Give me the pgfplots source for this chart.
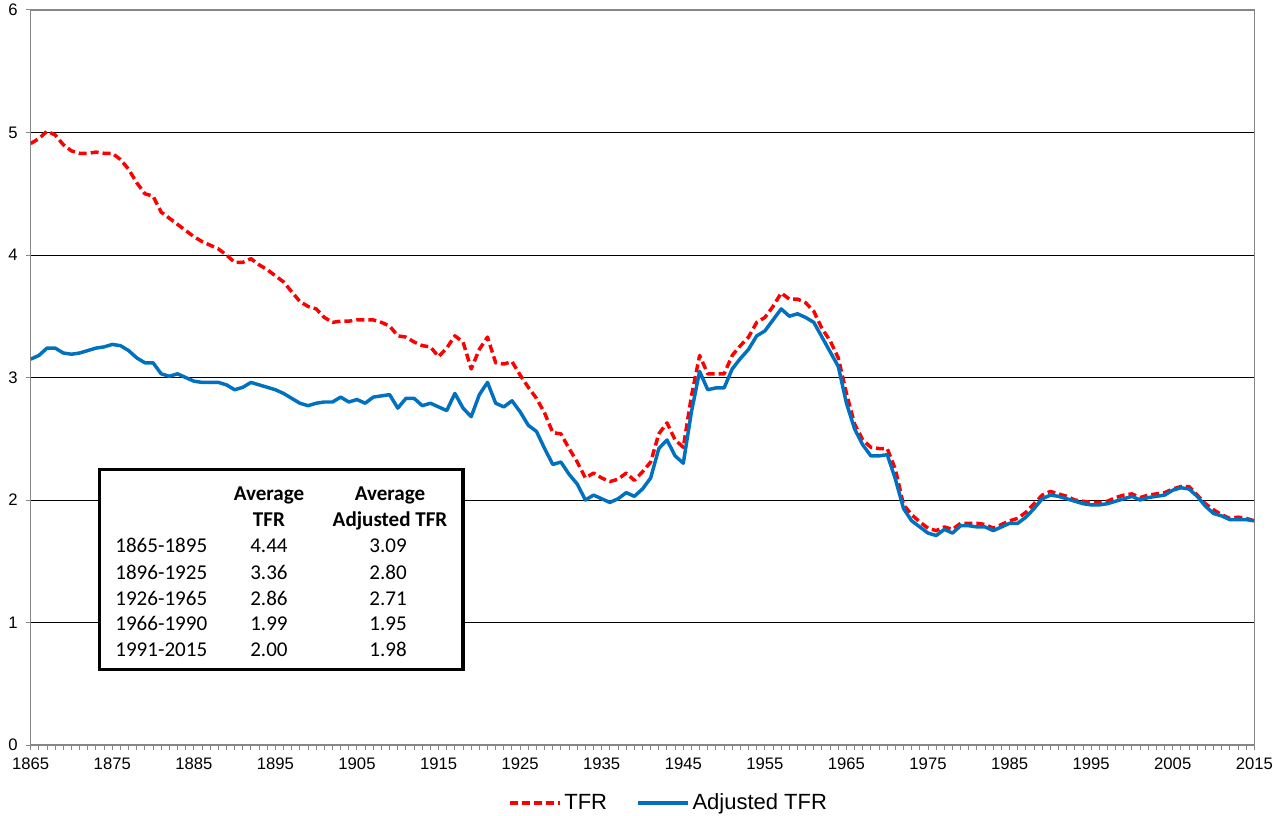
\documentclass[border=0pt]{standalone}
\usepackage{pgfplots}
\usepackage{pgfplotstable}
\pgfplotsset{compat=1.18}
\usepackage{fontspec}
\setmainfont{Liberation Sans}
\newfontfamily\calibri{Carlito}
\definecolor{tfrred}{RGB}{255,0,0}
\definecolor{adjblue}{RGB}{0,112,192}
\definecolor{axgray}{RGB}{134,134,134}

\pgfplotstableread{
year tfr adj
1865 4.91 3.15
1866 4.95 3.18
1867 5.01 3.24
1868 4.98 3.24
1869 4.90 3.20
1870 4.85 3.19
1871 4.83 3.20
1872 4.83 3.22
1873 4.84 3.24
1874 4.83 3.25
1875 4.83 3.27
1876 4.78 3.26
1877 4.70 3.22
1878 4.59 3.16
1879 4.50 3.12
1880 4.48 3.12
1881 4.35 3.03
1882 4.30 3.01
1883 4.25 3.03
1884 4.20 3.00
1885 4.15 2.97
1886 4.11 2.96
1887 4.08 2.96
1888 4.05 2.96
1889 4.00 2.94
1890 3.94 2.90
1891 3.94 2.92
1892 3.97 2.96
1893 3.92 2.94
1894 3.88 2.92
1895 3.83 2.90
1896 3.78 2.87
1897 3.70 2.83
1898 3.62 2.79
1899 3.58 2.77
1900 3.56 2.79
1901 3.49 2.80
1902 3.45 2.80
1903 3.46 2.84
1904 3.46 2.80
1905 3.47 2.82
1906 3.47 2.79
1907 3.47 2.84
1908 3.45 2.85
1909 3.42 2.86
1910 3.34 2.75
1911 3.33 2.83
1912 3.29 2.83
1913 3.26 2.77
1914 3.25 2.79
1915 3.17 2.76
1916 3.24 2.73
1917 3.34 2.87
1918 3.29 2.75
1919 3.07 2.68
1920 3.23 2.86
1921 3.33 2.96
1922 3.12 2.79
1923 3.11 2.76
1924 3.13 2.81
1925 3.02 2.72
1926 2.92 2.61
1927 2.83 2.56
1928 2.71 2.42
1929 2.55 2.29
1930 2.54 2.31
1931 2.42 2.21
1932 2.31 2.13
1933 2.18 2.00
1934 2.22 2.04
1935 2.18 2.01
1936 2.15 1.98
1937 2.17 2.01
1938 2.22 2.06
1939 2.16 2.03
1940 2.23 2.09
1941 2.31 2.18
1942 2.54 2.42
1943 2.63 2.49
1944 2.49 2.36
1945 2.43 2.30
1946 2.85 2.72
1947 3.18 3.05
1948 3.03 2.90
1949 3.03 2.915
1950 3.03 2.915
1951 3.18 3.07
1952 3.26 3.155
1953 3.33 3.23
1954 3.45 3.34
1955 3.49 3.38
1956 3.58 3.47
1957 3.69 3.56
1958 3.64 3.50
1959 3.64 3.52
1960 3.61 3.49
1961 3.54 3.45
1962 3.40 3.33
1963 3.30 3.21
1964 3.16 3.09
1965 2.87 2.79
1966 2.62 2.58
1967 2.49 2.45
1968 2.43 2.36
1969 2.42 2.36
1970 2.42 2.37
1971 2.25 2.17
1972 1.96 1.93
1973 1.88 1.83
1974 1.82 1.78
1975 1.77 1.73
1976 1.75 1.71
1977 1.78 1.76
1978 1.76 1.73
1979 1.81 1.79
1980 1.81 1.79
1981 1.81 1.78
1982 1.80 1.78
1983 1.77 1.75
1984 1.80 1.78
1985 1.83 1.81
1986 1.85 1.81
1987 1.90 1.86
1988 1.97 1.93
1989 2.04 2.01
1990 2.07 2.04
1991 2.05 2.03
1992 2.03 2.01
1993 2.00 1.99
1994 1.99 1.97
1995 1.98 1.96
1996 1.98 1.96
1997 1.99 1.97
1998 2.02 1.99
1999 2.04 2.01
2000 2.05 2.03
2001 2.02 2.00
2002 2.04 2.02
2003 2.05 2.03
2004 2.06 2.04
2005 2.09 2.08
2006 2.11 2.10
2007 2.11 2.09
2008 2.04 2.03
2009 1.97 1.95
2010 1.92 1.89
2011 1.88 1.87
2012 1.85 1.84
2013 1.86 1.84
2014 1.85 1.84
2015 1.83 1.83
}\tfrdata

\begin{document}
\begin{tikzpicture}
\path[use as bounding box] (-23.025pt,-52.5pt) rectangle (931.725pt,558.75pt);
\begin{axis}[
  at={(0pt,0pt)}, anchor=south west, scale only axis,
  width=917.7pt, height=551.25pt,
  xmin=1865, xmax=2015, ymin=0, ymax=6,
  xtick={1865,1875,...,2015},
  minor xtick={1865,1866,...,2015},
  ytick={0,1,...,6},
  xtick pos=bottom, ytick pos=left,
  tick align=outside,
  major tick length=3.75pt, minor tick length=3.75pt,
  tick style={axgray, line width=0.75pt},
  ymajorgrids,
  major grid style={black, line width=0.6pt},
  axis line style={axgray, line width=1pt},
  x tick label style={yshift=-2pt, /pgf/number format/1000 sep={}, /pgf/number format/assume math mode=true},
  y tick label style={xshift=-2.5pt, /pgf/number format/assume math mode=true},
  tick label style={font=\fontsize{12.5}{15}\selectfont},
  legend style={at={(0.5216,-0.0789)}, anchor=center, draw=none, fill=none,
    legend columns=2, font=\fontsize{16.5}{19}\selectfont,
    /tikz/every even column/.append style={column sep=20pt}},
  legend image code/.code={\draw[#1] (0pt,0pt) -- (37.5pt,0pt);},
]
\addplot[tfrred, line width=2.6pt, dash pattern=on 6pt off 3pt, line join=round] table[x=year, y=tfr] {\tfrdata};
\addlegendentry{TFR}
\addplot[adjblue, line width=2.6pt, line join=round] table[x=year, y=adj] {\tfrdata};
\addlegendentry{Adjusted TFR}
\end{axis}
% summary table box
\draw[black, line width=2.5pt, fill=white] (51.8pt,56.85pt) rectangle (324.1pt,206.4pt);
\begin{scope}[every node/.style={inner sep=0pt, font=\calibri\fontsize{15.8}{19}\selectfont}]
\node[anchor=base, font=\calibri\bfseries\fontsize{15.8}{19}\selectfont] at (178.7pt,183.7pt) {Average};
\node[anchor=base, font=\calibri\bfseries\fontsize{15.8}{19}\selectfont] at (178.7pt,163.65pt) {TFR};
\node[anchor=base, font=\calibri\bfseries\fontsize{15.8}{19}\selectfont] at (269.5pt,183.7pt) {Average};
\node[anchor=base, font=\calibri\bfseries\fontsize{15.8}{19}\selectfont] at (269.5pt,163.65pt) {Adjusted TFR};
\node[anchor=base west] at (63.3pt,144.15pt) {1865-1895};
\node[anchor=base west] at (63.3pt,124.1pt) {1896-1925};
\node[anchor=base west] at (63.3pt,104.9pt) {1926-1965};
\node[anchor=base west] at (63.3pt,85.65pt) {1966-1990};
\node[anchor=base west] at (63.3pt,66.15pt) {1991-2015};
\node[anchor=base] at (178.7pt,144.15pt) {4.44};
\node[anchor=base] at (178.7pt,124.1pt) {3.36};
\node[anchor=base] at (178.7pt,104.9pt) {2.86};
\node[anchor=base] at (178.7pt,85.65pt) {1.99};
\node[anchor=base] at (178.7pt,66.15pt) {2.00};
\node[anchor=base] at (268pt,144.15pt) {3.09};
\node[anchor=base] at (268pt,124.1pt) {2.80};
\node[anchor=base] at (268pt,104.9pt) {2.71};
\node[anchor=base] at (268pt,85.65pt) {1.95};
\node[anchor=base] at (268pt,66.15pt) {1.98};
\end{scope}
\end{tikzpicture}
\end{document}
